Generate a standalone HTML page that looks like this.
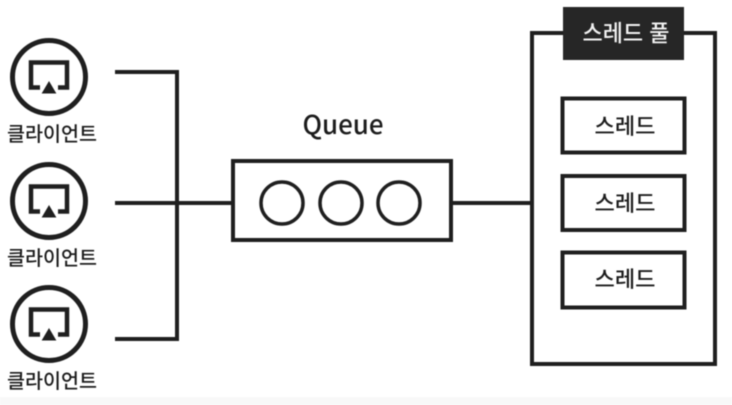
<!DOCTYPE html>
<html lang="ko">
<head>
<meta charset="utf-8">
<style>
html,body{margin:0;padding:0;background:#fff}
svg{display:block;filter:blur(.4px)}
text{font-family:"Noto Sans CJK KR","Liberation Sans",sans-serif;text-anchor:middle;fill:#1c1c1c;font-weight:500}
</style>
</head>
<body>
<svg width="732" height="405" viewBox="0 0 732 405" xmlns="http://www.w3.org/2000/svg">
<defs>
<g id="client">
<circle cx="0" cy="0" r="36.5" fill="none" stroke="#1f1f1f" stroke-width="5"/>
<path d="M-9 10.500H-18V-14.500H18V10.500H9" fill="none" stroke="#1f1f1f" stroke-width="4.500"/>
<path d="M0 5L-6.500 16H6.500Z" fill="#1f1f1f" stroke="#1f1f1f" stroke-width="1"/>
</g>
</defs>
<rect width="732" height="405" fill="#fff"/>
<rect y="397" width="732" height="8" fill="#f8f8f8"/>

<use href="#client" x="49" y="77"/>
<use href="#client" x="49" y="201"/>
<use href="#client" x="49" y="324"/>
<text x="52" y="141" font-size="20" lengthAdjust="spacingAndGlyphs" textLength="90">클라이언트</text>
<text x="52" y="265" font-size="20" lengthAdjust="spacingAndGlyphs" textLength="90">클라이언트</text>
<text x="52" y="388" font-size="20" lengthAdjust="spacingAndGlyphs" textLength="90">클라이언트</text>

<g fill="none" stroke="#1f1f1f" stroke-width="4">
<path d="M115 72H177V339H115" stroke-linejoin="miter"/>
<path d="M115 203H232"/>
<path d="M452 203H532"/>
<rect x="233" y="161" width="218" height="79" fill="#fff"/>
<circle cx="282" cy="203" r="21" stroke-width="3.500"/>
<circle cx="341" cy="203" r="21" stroke-width="3.500"/>
<circle cx="399" cy="203" r="21" stroke-width="3.500"/>
<rect x="532" y="33" width="183" height="331" fill="#fff"/>
<rect x="562.500" y="98.500" width="122" height="54" fill="#fff"/>
<rect x="562.500" y="176" width="122" height="54" fill="#fff"/>
<rect x="562.500" y="252.500" width="122" height="55" fill="#fff"/>
</g>

<text x="343" y="134" font-size="26" lengthAdjust="spacingAndGlyphs" textLength="81">Queue</text>
<rect x="563" y="7" width="121" height="53" fill="#262626"/>
<text x="626" y="41" font-size="23" style="fill:#f2f2f2" lengthAdjust="spacingAndGlyphs" textLength="87">스레드 풀</text>
<text x="625" y="134" font-size="22" lengthAdjust="spacingAndGlyphs" textLength="61">스레드</text>
<text x="625" y="211" font-size="22" lengthAdjust="spacingAndGlyphs" textLength="61">스레드</text>
<text x="625" y="287" font-size="22" lengthAdjust="spacingAndGlyphs" textLength="61">스레드</text>
</svg>
</body>
</html>
